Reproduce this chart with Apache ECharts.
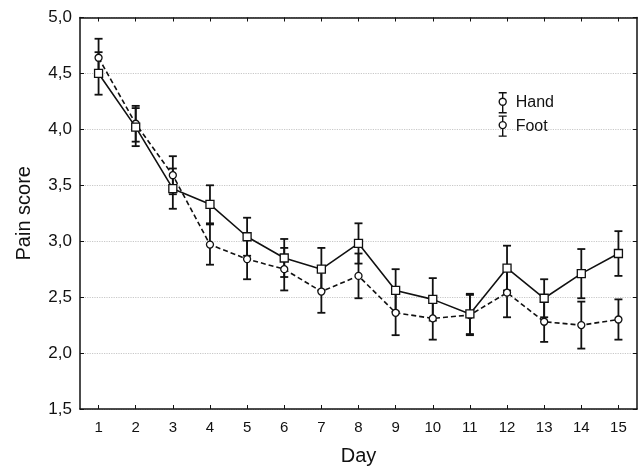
<!DOCTYPE html>
<html>
<head>
<meta charset="utf-8">
<script src="https://cdn.jsdelivr.net/npm/echarts@6/dist/echarts.min.js"></script>
<style>html,body{margin:0;padding:0;background:#fff;}#c{width:640px;height:471px;}</style>
</head>
<body>
<div id="c"></div>
<script>
const days = ['1','2','3','4','5','6','7','8','9','10','11','12','13','14','15'];
const handMean = [4.50,4.02,3.47,3.33,3.04,2.85,2.75,2.98,2.56,2.48,2.35,2.76,2.49,2.71,2.89];
const handErr  = [0.19,0.17,0.18,0.17,0.17,0.17,0.19,0.18,0.19,0.19,0.18,0.20,0.17,0.22,0.20];
const footMean = [4.64,4.05,3.59,2.97,2.84,2.75,2.55,2.69,2.36,2.31,2.34,2.54,2.28,2.25,2.30];
const footErr  = [0.17,0.16,0.17,0.18,0.18,0.19,0.19,0.20,0.20,0.19,0.18,0.22,0.18,0.21,0.18];
const yMin = 1.5, yMax = 5.0, yStep = 0.5;

const font = 'Liberation Sans, Arial, sans-serif';
function errData(mean, err){
  return mean.map((m,i)=>[i, +(m-err[i]).toFixed(3), +(m+err[i]).toFixed(3)]);
}
function errRender(params, api){
  const x = api.value(0);
  const lo = api.coord([x, api.value(1)]);
  const hi = api.coord([x, api.value(2)]);
  const w = 4;
  const st = {stroke:'#111', lineWidth:1.8, fill:null};
  return {type:'group', children:[
    {type:'line', shape:{x1:lo[0],y1:lo[1],x2:hi[0],y2:hi[1]}, style:st},
    {type:'line', shape:{x1:lo[0]-w,y1:lo[1],x2:lo[0]+w,y2:lo[1]}, style:st},
    {type:'line', shape:{x1:hi[0]-w,y1:hi[1],x2:hi[0]+w,y2:hi[1]}, style:st}
  ]};
}
const chart = echarts.init(document.getElementById('c'), null, {renderer:'canvas'});
const legendIcon = 'path://M6 0L6 5.5M6 12.5L6 20M2 0L10 0M2 20L10 20M9.5 9A3.5 3.5 0 1 1 2.5 9A3.5 3.5 0 1 1 9.5 9Z';
chart.setOption({
  animation:false,
  backgroundColor:'#fff',
  grid:{left:80, right:3, top:17.5, bottom:58},
  legend:{
    orient:'vertical', left:498, top:92, padding:0, itemGap:2, itemWidth:12, itemHeight:20,
    icon: legendIcon,
    itemStyle:{color:'#fff', borderColor:'#111', borderWidth:1.4, borderType:'solid'},
    textStyle:{fontFamily:font, fontSize:16, color:'#111', padding:[0,0,0,2]},
    data:['Hand','Foot']
  },
  xAxis:[{
    type:'category', data:days, boundaryGap:true,
    name:'Day', nameLocation:'middle', nameGap:37,
    nameTextStyle:{fontFamily:font, fontSize:20, color:'#111'},
    axisLine:{show:true, lineStyle:{color:'#111', width:1.5}},
    axisTick:{show:true, inside:true, alignWithLabel:true, length:4, lineStyle:{color:'#111'}},
    axisLabel:{fontFamily:font, fontSize:15, color:'#111', margin:11},
    splitLine:{show:false}
  },{
    type:'category', data:days, boundaryGap:true, position:'top',
    axisLine:{show:true, lineStyle:{color:'#111', width:1.5}},
    axisTick:{show:true, inside:true, alignWithLabel:true, length:4, lineStyle:{color:'#111'}},
    axisLabel:{show:false}, splitLine:{show:false}
  }],
  yAxis:[{
    type:'value', min:yMin, max:yMax, interval:yStep,
    name:'Pain score', nameLocation:'middle', nameGap:46,
    nameTextStyle:{fontFamily:font, fontSize:20, color:'#111'},
    axisLine:{show:true, lineStyle:{color:'#111', width:1.5}},
    axisTick:{show:true, inside:true, length:4, lineStyle:{color:'#111'}},
    axisLabel:{fontFamily:font, fontSize:17, color:'#111', margin:8,
      formatter:v=>v.toFixed(1).replace('.',',')},
    splitLine:{show:true, lineStyle:{color:'#c8c8c8', type:'dotted', width:1.2}}
  },{
    type:'value', min:yMin, max:yMax, interval:yStep, position:'right',
    axisLine:{show:true, lineStyle:{color:'#111', width:1.5}},
    axisTick:{show:true, inside:true, length:4, lineStyle:{color:'#111'}},
    axisLabel:{show:false}, splitLine:{show:false}
  }],
  series:[
    {type:'custom', name:'HandErr', renderItem:errRender, data:errData(handMean, handErr),
      encode:{x:0, y:[1,2]}, z:2, silent:true},
    {type:'custom', name:'FootErr', renderItem:errRender, data:errData(footMean, footErr),
      encode:{x:0, y:[1,2]}, z:2, silent:true},
    {type:'line', name:'Foot', data:footMean, symbol:'circle', symbolSize:7,
      lineStyle:{color:'#111', width:1.6, type:[5,3]},
      itemStyle:{color:'#fff', borderColor:'#111', borderWidth:1.3}, z:3},
    {type:'line', name:'Hand', data:handMean, symbol:'rect', symbolSize:8,
      lineStyle:{color:'#111', width:1.6, type:'solid'},
      itemStyle:{color:'#fff', borderColor:'#111', borderWidth:1.3}, z:4}
  ]
});
</script>
</body>
</html>
